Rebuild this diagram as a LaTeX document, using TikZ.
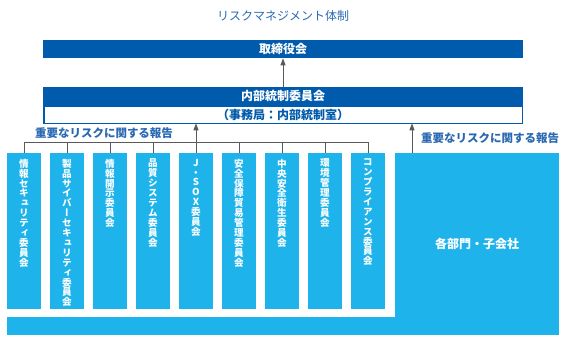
\documentclass[tikz,border=0pt]{standalone}
\usepackage{fontspec}
\setmainfont{Noto Sans CJK JP}
\newfontfamily\vfont[RawFeature=+vert]{Noto Sans CJK JP}
\usetikzlibrary{arrows.meta,positioning}
\definecolor{darkblue}{HTML}{005BAC}
\definecolor{lightblue}{HTML}{1EB4EB}
\definecolor{labelblue}{HTML}{2A69B2}
\definecolor{arrgray}{HTML}{5A5A5A}
\newcommand\vstackfont{\vfont\fontsize{9.6}{9.9}\selectfont\bfseries\lineskiplimit=-10pt\relax}

\begin{document}
\begin{tikzpicture}[x=1pt, y=1pt,
    node distance=9pt,
    inner sep=0pt, outer sep=0pt,
    topbox/.style={fill=darkblue, text=white, font=\fontsize{12}{14}\selectfont\bfseries,
        minimum width=480pt},
    secbox/.style={draw=darkblue, line width=1.5pt, fill=white, text=darkblue,
        font=\fontsize{12}{14}\selectfont\bfseries, minimum width=478.5pt, minimum height=17.5pt},
    cbox/.style={fill=lightblue, minimum width=34pt, minimum height=156pt},
    vtxt/.style={text=white, align=center, font=\vstackfont},
    note/.style={text=labelblue, font=\fontsize{11.5}{13}\selectfont\bfseries},
    arr/.style={-{Triangle[length=7pt,width=5pt]}, draw=arrgray, line width=1pt},
    bus/.style={draw=arrgray, line width=1pt}
    ]
    \useasboundingbox (0,0) rectangle (568,340);

    \node[text=labelblue, font=\fontsize{12}{14}\selectfont] (title) at (283,324) {リスクマネジメント体制};

    % board and internal control committee
    \node[topbox, minimum height=18.3pt] (board) at (283,290.8) {取締役会};
    \node[topbox, minimum height=17.7pt, below=29pt of board] (icc) {内部統制委員会};
    \node[secbox, below=0.75pt of icc] (sec) {（事務局：内部統制室）};

    % committees
    \node[cbox] (c1) at (24,109) {};
    \node[cbox, right=of c1] (c2) {};
    \node[cbox, right=of c2] (c3) {};
    \node[cbox, right=of c3] (c4) {};
    \node[cbox, right=of c4] (c5) {};
    \node[cbox, right=of c5] (c6) {};
    \node[cbox, right=of c6] (c7) {};
    \node[cbox, right=of c7] (c8) {};
    \node[cbox, right=of c8] (c9) {};
    \node[vtxt, below=6pt of c1.north] (t1) {情\\報\\セ\\キ\\ュ\\リ\\テ\\ィ\\委\\員\\会};
    \node[vtxt, below=6pt of c2.north] (t2) {製\\品\\サ\\イ\\バ\\ー\\セ\\キ\\ュ\\リ\\テ\\ィ\\委\\員\\会};
    \node[vtxt, below=6pt of c3.north] (t3) {情\\報\\開\\示\\委\\員\\会};
    \node[vtxt, below=6pt of c4.north] (t4) {品\\質\\シ\\ス\\テ\\ム\\委\\員\\会};
    \node[vtxt, below=6pt of c5.north] (t5) {J\\・\\S\\O\\X\\委\\員\\会};
    \node[vtxt, below=6pt of c6.north] (t6) {安\\全\\保\\障\\貿\\易\\管\\理\\委\\員\\会};
    \node[vtxt, below=6pt of c7.north] (t7) {中\\央\\安\\全\\衛\\生\\委\\員\\会};
    \node[vtxt, below=6pt of c8.north] (t8) {環\\境\\管\\理\\委\\員\\会};
    \node[vtxt, below=6pt of c9.north] (t9) {コ\\ン\\プ\\ラ\\イ\\ア\\ン\\ス\\委\\員\\会};

    % departments and subsidiaries
    \node[fill=lightblue, minimum width=552pt, minimum height=18.6pt, anchor=south west] (base) at (7,4.7) {};
    \node[fill=lightblue, minimum width=164pt, minimum height=182.3pt, anchor=south east,
        text=white, font=\fontsize{12}{14}\selectfont\bfseries] (dept) at (559,4.7) {各部門・子会社};

    \node[note] (rep1) at (104,207) {重要なリスクに関する報告};
    \node[note] (rep2) at (490,202) {重要なリスクに関する報告};

    \draw[arr] (icc) -- (board);
    \draw[bus] (c1.north) -- ++(0,10) -| (c9.north);
    \foreach \i in {2,3,4,6,7,8}
        \draw[bus] (c\i.north) -- ++(0,10);
    \draw[arr] (c5.north) -- (c5.north |- sec.south);
    \coordinate (up) at ([xshift=17pt]dept.north west);
    \draw[arr] (up) -- (up |- sec.south);
\end{tikzpicture}
\end{document}
